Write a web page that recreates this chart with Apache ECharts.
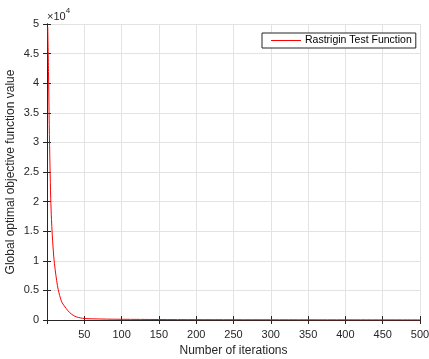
<!DOCTYPE html>
<html>
<head>
<meta charset="utf-8">
<script src="https://cdn.jsdelivr.net/npm/echarts@6/dist/echarts.min.js"></script>
<style>
  html, body { margin: 0; padding: 0; background: #fff; }
  #chart { width: 429px; height: 359px; }
</style>
</head>
<body>
<div id="chart"></div>
<script>
const iterations = [1, 2, 3, 4, 5, 6, 7, 8, 9, 10, 12, 14, 16, 18, 20, 23, 26, 30, 35, 40, 45, 50, 60, 80, 100, 150, 200, 300, 400, 500];
const bestValues = [49500, 42000, 33000, 26000, 20500, 17000, 14500, 12500, 10800, 9500, 7500, 5800, 4600, 3700, 3000, 2400, 1900, 1300, 800, 500, 350, 250, 200, 150, 120, 80, 60, 40, 30, 20];
const seriesName = 'Rastrigin Test Function';

const axisColor = '#262626';
const lineColor = '#ff0000';
const font = 'Liberation Sans, Arial, sans-serif';

const chart = echarts.init(document.getElementById('chart'));

const options = {
  animation: false,
  grid: { left: 47, right: 9, top: 24, bottom: 39, outerBoundsMode: 'none', containLabel: false },
  legend: {
    left: 262,
    top: 33,
    padding: [2, 4, 2, 0],
    itemWidth: 0,
    itemHeight: 10,
    itemGap: 0,
    borderColor: axisColor,
    borderWidth: 1,
    backgroundColor: '#fff',
    itemStyle: { opacity: 0 },
    lineStyle: { opacity: 0 },
    // the legend swatch is drawn as a thin red box in the label itself
    formatter: (name) => '{l| }{t|' + name + '}',
    textStyle: {
      fontFamily: font,
      fontSize: 10.5,
      color: '#000',
      rich: {
        l: { width: 30, height: 1, backgroundColor: lineColor },
        t: { fontFamily: font, fontSize: 10.5, color: '#000', padding: [0, 0, 0, 4] },
      },
    },
    data: [seriesName],
  },
  xAxis: [
    {
      type: 'value',
      min: 0,
      max: 500,
      interval: 50,
      name: 'Number of iterations',
      nameLocation: 'middle',
      nameGap: 25,
      nameMoveOverlap: false,
      nameTextStyle: { fontFamily: font, fontSize: 12, color: axisColor },
      axisLine: { show: true, lineStyle: { color: axisColor, width: 1 } },
      axisTick: { show: true, inside: true, length: 4, lineStyle: { color: axisColor } },
      axisLabel: {
        fontFamily: font,
        fontSize: 11,
        color: axisColor,
        margin: 9,
        formatter: (v) => (v === 0 ? '' : String(v)),
      },
      splitLine: { show: true, lineStyle: { color: '#e3e3e3' } },
    },
    {
      type: 'value',
      position: 'top',
      min: 0,
      max: 500,
      interval: 50,
      axisLine: { show: true, lineStyle: { color: axisColor, width: 1 } },
      axisTick: { show: true, inside: true, length: 4, lineStyle: { color: axisColor } },
      axisLabel: { show: false },
      splitLine: { show: false },
    },
  ],
  yAxis: [
    {
      type: 'value',
      min: 0,
      max: 50000,
      interval: 5000,
      name: 'Global optimal objective function value',
      nameLocation: 'middle',
      nameGap: 30,
      nameMoveOverlap: false,
      nameTextStyle: { fontFamily: font, fontSize: 12, color: axisColor },
      axisLine: { show: true, lineStyle: { color: axisColor, width: 1 } },
      axisTick: { show: true, inside: true, length: 4, lineStyle: { color: axisColor } },
      axisLabel: {
        fontFamily: font,
        fontSize: 11,
        color: axisColor,
        margin: 8,
        formatter: (v) => String(v / 10000),
      },
      splitLine: { show: true, lineStyle: { color: '#e3e3e3' } },
    },
    {
      type: 'value',
      position: 'right',
      min: 0,
      max: 50000,
      interval: 5000,
      axisLine: { show: true, lineStyle: { color: axisColor, width: 1 } },
      axisTick: { show: true, inside: true, length: 4, lineStyle: { color: axisColor } },
      axisLabel: { show: false },
      splitLine: { show: false },
    },
  ],
  graphic: [
    {
      type: 'text',
      left: 47,
      top: 7,
      style: {
        text: '{a|×10}{b|4}',
        rich: {
          a: { fontFamily: font, fontSize: 11, fill: axisColor, padding: [4, 0, 0, 0] },
          b: { fontFamily: font, fontSize: 8, fill: axisColor, verticalAlign: 'top' },
        },
      },
    },
  ],
  series: [
    {
      name: seriesName,
      type: 'line',
      symbol: 'none',
      smooth: 0.3,
      data: iterations.map((it, i) => [it, bestValues[i]]),
      lineStyle: { color: lineColor, width: 1 },
      itemStyle: { color: lineColor },
    },
  ],
};

chart.setOption(options);
</script>
</body>
</html>
